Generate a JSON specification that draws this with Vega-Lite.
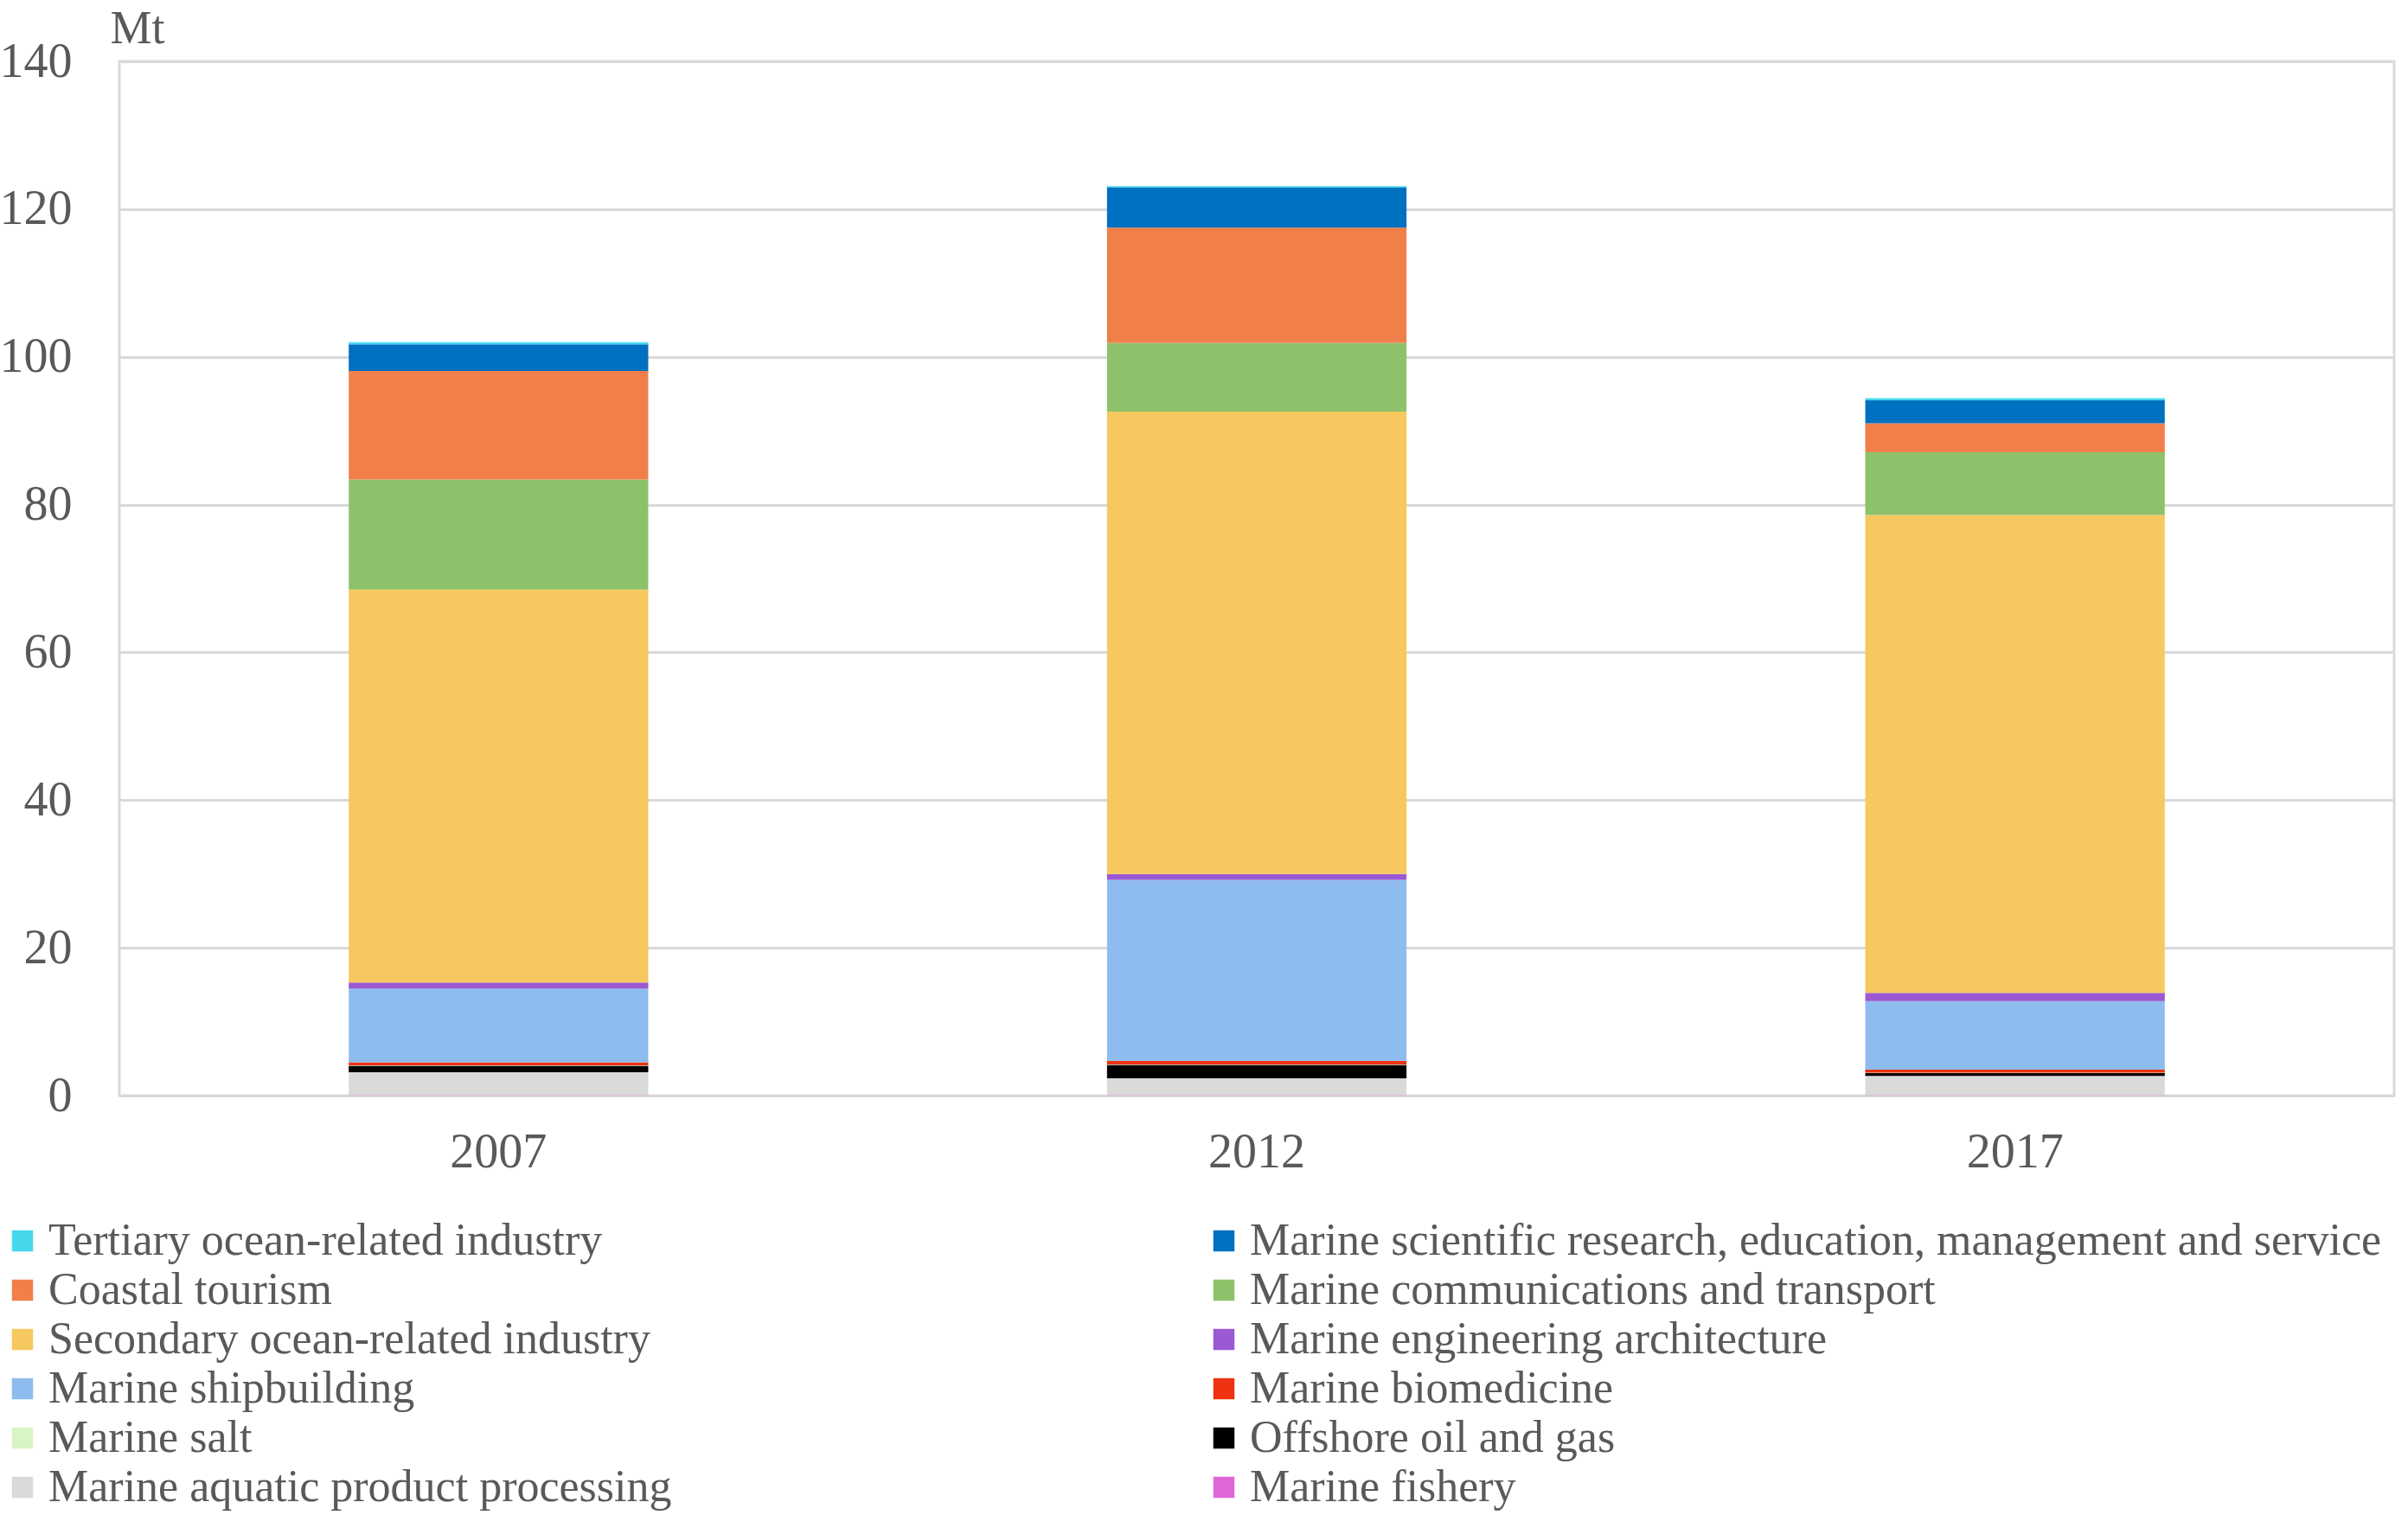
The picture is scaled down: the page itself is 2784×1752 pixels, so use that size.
{
  "$schema": "https://vega.github.io/schema/vega-lite/v6.json",
  "autosize": {"type": "none"},
  "width": 2630,
  "height": 1196,
  "padding": {"left": 138, "top": 71, "right": 16, "bottom": 485},
  "background": "white",
  "data": {
    "values": [
      {"year": "2007", "industry": "Marine fishery", "k": 1, "value": 0.05},
      {"year": "2007", "industry": "Marine aquatic product processing", "k": 2, "value": 3.1},
      {"year": "2007", "industry": "Offshore oil and gas", "k": 3, "value": 0.9},
      {"year": "2007", "industry": "Marine salt", "k": 4, "value": 0.05},
      {"year": "2007", "industry": "Marine biomedicine", "k": 5, "value": 0.4},
      {"year": "2007", "industry": "Marine shipbuilding", "k": 6, "value": 10.0},
      {"year": "2007", "industry": "Marine engineering architecture", "k": 7, "value": 0.8},
      {"year": "2007", "industry": "Secondary ocean-related industry", "k": 8, "value": 53.2},
      {"year": "2007", "industry": "Marine communications and transport", "k": 9, "value": 14.9},
      {"year": "2007", "industry": "Coastal tourism", "k": 10, "value": 14.7},
      {"year": "2007", "industry": "Marine scientific research, education, management and service", "k": 11, "value": 3.6},
      {"year": "2007", "industry": "Tertiary ocean-related industry", "k": 12, "value": 0.3},
      {"year": "2012", "industry": "Marine fishery", "k": 1, "value": 0.05},
      {"year": "2012", "industry": "Marine aquatic product processing", "k": 2, "value": 2.3},
      {"year": "2012", "industry": "Offshore oil and gas", "k": 3, "value": 1.8},
      {"year": "2012", "industry": "Marine salt", "k": 4, "value": 0.05},
      {"year": "2012", "industry": "Marine biomedicine", "k": 5, "value": 0.5},
      {"year": "2012", "industry": "Marine shipbuilding", "k": 6, "value": 24.5},
      {"year": "2012", "industry": "Marine engineering architecture", "k": 7, "value": 0.8},
      {"year": "2012", "industry": "Secondary ocean-related industry", "k": 8, "value": 62.6},
      {"year": "2012", "industry": "Marine communications and transport", "k": 9, "value": 9.3},
      {"year": "2012", "industry": "Coastal tourism", "k": 10, "value": 15.6},
      {"year": "2012", "industry": "Marine scientific research, education, management and service", "k": 11, "value": 5.4},
      {"year": "2012", "industry": "Tertiary ocean-related industry", "k": 12, "value": 0.2},
      {"year": "2017", "industry": "Marine fishery", "k": 1, "value": 0.05},
      {"year": "2017", "industry": "Marine aquatic product processing", "k": 2, "value": 2.6},
      {"year": "2017", "industry": "Offshore oil and gas", "k": 3, "value": 0.4},
      {"year": "2017", "industry": "Marine salt", "k": 4, "value": 0.05},
      {"year": "2017", "industry": "Marine biomedicine", "k": 5, "value": 0.4},
      {"year": "2017", "industry": "Marine shipbuilding", "k": 6, "value": 9.3},
      {"year": "2017", "industry": "Marine engineering architecture", "k": 7, "value": 1.1},
      {"year": "2017", "industry": "Secondary ocean-related industry", "k": 8, "value": 64.7},
      {"year": "2017", "industry": "Marine communications and transport", "k": 9, "value": 8.5},
      {"year": "2017", "industry": "Coastal tourism", "k": 10, "value": 3.9},
      {"year": "2017", "industry": "Marine scientific research, education, management and service", "k": 11, "value": 3.1},
      {"year": "2017", "industry": "Tertiary ocean-related industry", "k": 12, "value": 0.3}
    ]
  },
  "mark": {"type": "bar", "stroke": null},
  "encoding": {
    "x": {
      "field": "year",
      "type": "nominal",
      "title": null,
      "scale": {"paddingInner": 0.605, "paddingOuter": 0.3025},
      "axis": {"labelAngle": 0, "labelPadding": 38, "domain": false, "ticks": false, "grid": false}
    },
    "y": {
      "field": "value",
      "type": "quantitative",
      "stack": "zero",
      "scale": {"domain": [0, 140], "nice": false},
      "axis": {
        "values": [0, 20, 40, 60, 80, 100, 120, 140],
        "title": "Mt",
        "titleAngle": 0,
        "titleAlign": "left",
        "titleBaseline": "alphabetic",
        "titleX": -11,
        "titleY": -22,
        "titleFontWeight": "normal",
        "titleFontSize": 54,
        "titleColor": "#595959",
        "labelPadding": 55,
        "domain": false,
        "ticks": false,
        "grid": true,
        "gridColor": "#D9D9D9",
        "gridWidth": 3
      }
    },
    "order": {"field": "k", "type": "quantitative", "sort": "ascending"},
    "color": {
      "field": "industry",
      "type": "nominal",
      "title": null,
      "scale": {
        "domain": [
          "Tertiary ocean-related industry",
          "Coastal tourism",
          "Secondary ocean-related industry",
          "Marine shipbuilding",
          "Marine salt",
          "Marine aquatic product processing",
          "Marine scientific research, education, management and service",
          "Marine communications and transport",
          "Marine engineering architecture",
          "Marine biomedicine",
          "Offshore oil and gas",
          "Marine fishery"
        ],
        "range": [
          "#45D8EC",
          "#F07F4A",
          "#F6C85F",
          "#8EBCEE",
          "#D9F5C4",
          "#D9D9D9",
          "#0070C0",
          "#8DC26A",
          "#9B59D3",
          "#EE3212",
          "#000000",
          "#E066D8"
        ]
      },
      "legend": {
        "orient": "none",
        "legendX": -138,
        "legendY": 1338,
        "columns": 2,
        "columnPadding": 612,
        "rowPadding": 5,
        "symbolType": "square",
        "symbolSize": 600,
        "symbolStrokeWidth": 0,
        "labelFontSize": 52,
        "labelLimit": 2000,
        "labelOffset": 4
      }
    }
  },
  "config": {
    "font": "Liberation Serif",
    "view": {"stroke": "#D9D9D9", "strokeWidth": 3},
    "axis": {"labelFont": "Liberation Serif", "labelFontSize": 56, "labelColor": "#595959", "titleFont": "Liberation Serif"},
    "legend": {"labelFont": "Liberation Serif", "labelColor": "#595959"}
  }
}
